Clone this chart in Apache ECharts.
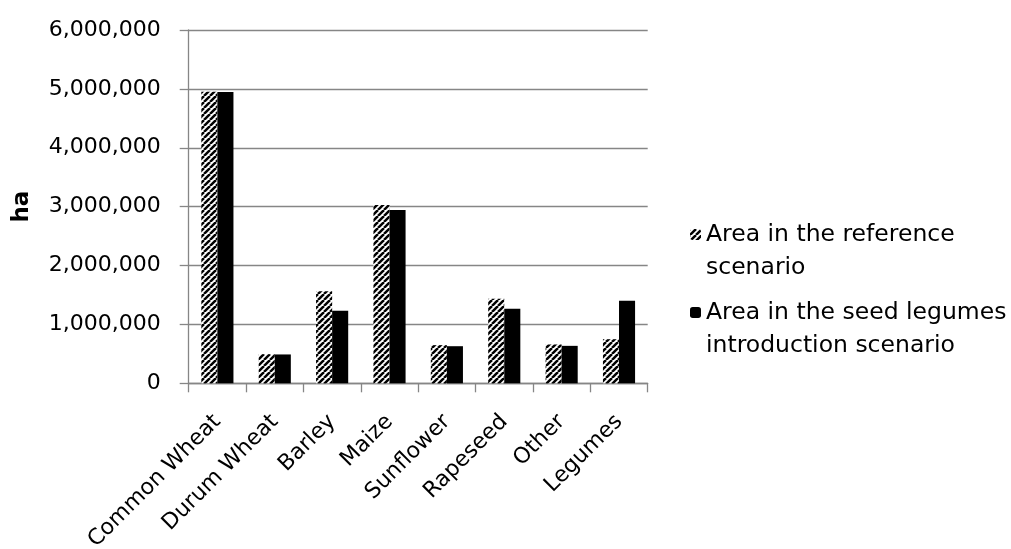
<!DOCTYPE html>
<html>
<head>
<meta charset="utf-8">
<script src="https://cdn.jsdelivr.net/npm/echarts@6/dist/echarts.min.js"></script>
<style>
html,body{margin:0;padding:0;background:#fff;}
#chart{width:1011px;height:549px;}
</style>
</head>
<body>
<div id="chart"></div>
<script>
var categories = ['Common Wheat','Durum Wheat','Barley','Maize','Sunflower','Rapeseed','Other','Legumes'];
var referenceArea = [4950000, 495000, 1565000, 3030000, 648000, 1436000, 659000, 749000];
var legumesArea = [4945000, 490000, 1234000, 2945000, 630000, 1267000, 636000, 1403000];
var seriesNames = ['Area in the reference\nscenario', 'Area in the seed legumes\nintroduction scenario'];
var yTicks = { min: 0, max: 6000000, interval: 1000000 };

function hatch() {
  var s = 6;
  var c = document.createElement('canvas');
  c.width = s; c.height = s;
  var ctx = c.getContext('2d');
  ctx.fillStyle = '#fff';
  ctx.fillRect(0, 0, s, s);
  ctx.strokeStyle = '#000';
  ctx.lineWidth = 2.5;
  for (var k = -s; k <= s; k += s) {
    ctx.beginPath();
    ctx.moveTo(k, s);
    ctx.lineTo(k + s, 0);
    ctx.stroke();
  }
  return c;
}
var pattern = { image: hatch(), repeat: 'repeat' };
var FONT = 'DejaVu Sans';

function legendFmt(name) {
  var parts = name.split('\n');
  return '\n' + parts[0] + '\n' + parts[1];
}

var chart = echarts.init(document.getElementById('chart'), null, { renderer: 'canvas' });
chart.setOption({
  animation: false,
  backgroundColor: '#fff',
  grid: { left: 188.7, right: 363.3, top: 30, bottom: 165.7, containLabel: false, outerBoundsMode: 'none' },
  legend: [
    {
      data: [seriesNames[0]], orient: 'vertical', left: 690, top: 185, padding: 0,
      itemWidth: 11, itemHeight: 11, itemGap: 0,
      formatter: legendFmt,
      textStyle: { fontFamily: FONT, fontSize: 23.5, color: '#000', lineHeight: 33 }
    },
    {
      data: [seriesNames[1]], orient: 'vertical', left: 690, top: 263, padding: 0,
      itemWidth: 11, itemHeight: 11, itemGap: 0,
      formatter: legendFmt,
      textStyle: { fontFamily: FONT, fontSize: 23.5, color: '#000', lineHeight: 33 }
    }
  ],
  xAxis: {
    type: 'category',
    data: categories,
    axisLine: { lineStyle: { color: '#868686', width: 1.3 } },
    axisTick: { show: true, length: 9, lineStyle: { color: '#868686', width: 1.3 } },
    axisLabel: { rotate: 45, margin: 35, interval: 0, fontFamily: FONT, fontSize: 22, color: '#000' }
  },
  yAxis: {
    type: 'value',
    min: yTicks.min, max: yTicks.max, interval: yTicks.interval,
    name: 'ha', nameLocation: 'middle', nameRotate: 90, nameGap: 155,
    nameTextStyle: { fontFamily: FONT, fontSize: 23, fontWeight: 'bold', color: '#000' },
    axisLine: { show: true, lineStyle: { color: '#868686', width: 1.3 } },
    axisTick: { show: true, inside: false, length: 9, lineStyle: { color: '#868686', width: 1.3 } },
    splitLine: { lineStyle: { color: '#868686', width: 1.3 } },
    axisLabel: {
      margin: 28, fontFamily: FONT, fontSize: 22, color: '#000',
      formatter: function (v) { return v.toLocaleString('en-US'); }
    }
  },
  series: [
    { name: seriesNames[0], type: 'bar', data: referenceArea, barGap: '0%', barCategoryGap: '44%',
      itemStyle: { color: pattern } },
    { name: seriesNames[1], type: 'bar', data: legumesArea, barGap: '0%', barCategoryGap: '44%',
      itemStyle: { color: '#000' } }
  ]
});
</script>
</body>
</html>
